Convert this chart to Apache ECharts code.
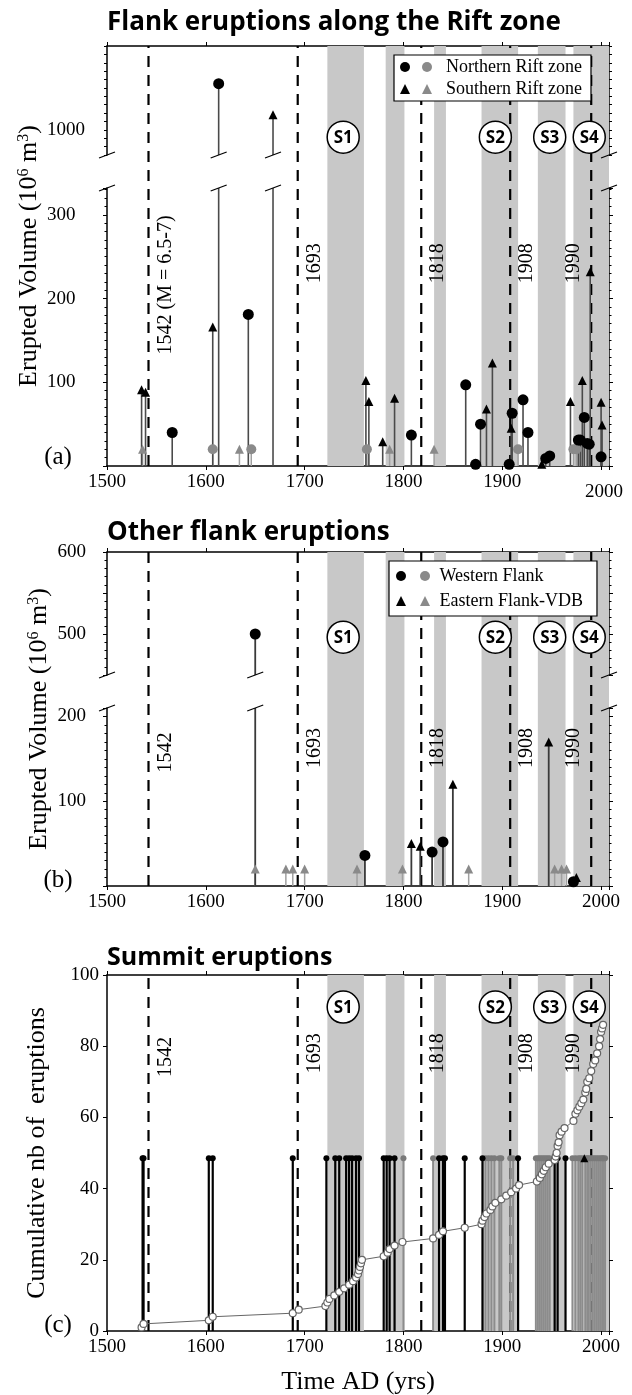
<!DOCTYPE html>
<html><head><meta charset="utf-8">
<script src="https://cdn.jsdelivr.net/npm/echarts@6/dist/echarts.min.js"></script>
<style>html,body{margin:0;padding:0;background:#fff}#c{width:632px;height:1395px}</style>
</head><body><div id="c"></div>
<script>
// ---------------- DATA ----------------
const xTicks = [1500, 1600, 1700, 1800, 1900, 2000];
const eventYears = [1542, 1693, 1818, 1908, 1990];
const eventLabelsA = ['1542 (M = 6.5-7)', '1693', '1818', '1908', '1990'];
const eventLabelsB = ['1542', '1693', '1818', '1908', '1990'];
const bandStarts = [1723, 1782, 1831, 1879, 1936, 1972];
const bandEnds   = [1760, 1801, 1843, 1916, 1964, 2008];
const sLabels = ['S1', 'S2', 'S3', 'S4'];
const sYears  = [1739, 1893, 1948, 1988];

// panel (a) Rift zone
const aTickLabels = [100, 200, 300, 1000];
const nrBlackYears = [1566, 1613, 1643, 1808, 1863, 1873, 1878, 1907, 1910, 1921, 1926, 1944, 1948, 1977, 1979, 1983, 1986, 1988, 2000];
const nrBlackVals  = [40, 1055, 181, 37, 97, 2, 50, 2, 63, 79, 40, 9, 12, 31, 31, 58, 27, 26, 11];
const nrGrayYears  = [1607, 1646, 1763, 1916, 1972, 1975];
const nrGrayVals   = [20, 20, 20, 20, 20, 20];
const srBlackYears = [1535, 1539, 1607, 1668, 1762, 1765, 1779, 1791, 1884, 1890, 1909, 1940, 1969, 1981, 1989, 2000, 2001];
const srBlackVals  = [91, 88, 166, 1018, 102, 77, 29, 81, 68, 123, 45, 2, 77, 102, 232, 76, 49];
const srGrayYears  = [1536, 1634, 1786, 1831];
const srGrayVals   = [20, 20, 20, 20];

// panel (b) other flanks
const bTickLabels = [100, 200, 500, 600];
const wfBlackYears = [1650, 1761, 1829, 1840, 1972];
const wfBlackVals  = [500, 36, 40, 52, 5];
const wfGrayYears  = [];
const wfGrayVals   = [];
const efBlackYears = [1808, 1817, 1850, 1947, 1975];
const efBlackVals  = [50, 47, 120, 170, 10];
const efGrayYears  = [1650, 1681, 1688, 1700, 1753, 1799, 1866, 1953, 1960, 1965];
const efGrayVals   = [20, 20, 20, 20, 20, 20, 20, 20, 20, 20];

// panel (c) summit
const cTickLabels = [0, 20, 40, 60, 80, 100];
const summitLevel = 48.5;
const summitBlackYears = [1536, 1537, 1603, 1607, 1688, 1722, 1731, 1735, 1742, 1745, 1748, 1752, 1755, 1780, 1783, 1786, 1791, 1836, 1840, 1842, 1862, 1880, 1916, 1953, 1956, 1964];
const summitGrayYears  = [1800, 1830, 1883, 1886, 1889, 1892, 1897, 1899, 1908, 1911, 1934, 1936, 1938, 1940, 1942, 1944, 1946, 1948, 1971, 1974, 1977, 1979, 1981, 1984, 1986, 1987, 1989, 1991, 1993, 1995, 1997, 1999, 2001, 2002, 2004];
const summitTriYears   = [1983];
const cumYears  = [1535, 1537, 1603, 1607, 1688, 1694, 1721, 1723, 1725, 1730, 1735, 1740, 1745, 1749, 1752, 1754, 1755, 1756, 1757, 1758, 1780, 1784, 1786, 1791, 1799, 1830, 1836, 1840, 1862, 1879, 1880, 1882, 1884, 1888, 1890, 1893, 1899, 1904, 1909, 1914, 1917, 1935, 1938, 1940, 1942, 1944, 1947, 1953, 1954, 1955, 1956, 1957, 1958, 1960, 1963, 1972, 1974, 1976, 1978, 1980, 1982, 1984, 1985, 1986, 1988, 1990, 1992, 1994, 1996, 1998, 1999, 2000, 2001, 2002];
const cumCounts = [1, 2, 3, 4, 5, 6, 7, 8, 9, 10, 11, 12, 13, 14, 15, 16, 17, 18, 19, 20, 21, 22, 23, 24, 25, 26, 27, 28, 29, 30, 31, 32, 33, 34, 35, 36, 37, 38, 39, 40, 41, 42, 43, 44, 45, 46, 47, 48, 49, 50, 52, 53, 55, 56, 57, 59, 61, 62, 63, 64, 65, 67, 68, 70, 71, 73, 75, 76, 78, 80, 82, 84, 85, 86];

// ---------------- LAYOUT / STYLE ----------------
const X_MIN = 1500, X_MAX = 2008;
const LEFT = 107, RIGHT = 23;
const SERIF = 'Liberation Serif';
const SANS_B = 'Open Sans';
const BAND = '#c8c8c8';
const GRAY = '#8a8a8a';
const A_LO_MAX = 332, A_UP_MIN = 970, A_UP_MAX = 1100;
const B_LO_MAX = 210, B_UP_MIN = 450, B_UP_MAX = 600;
const labelPosA = [0.431, 0.483, 0.483, 0.483, 0.483];
const labelPosB = [0.40, 0.413, 0.413, 0.413, 0.413];
const labelPosC = [77, 78, 78, 78, 78];
const labelSide = [1, 1, 1, 1, -1];
const NAME_SIZE = 26;

function fmtList(list) { return v => list.indexOf(v) >= 0 ? String(v) : ''; }
const xFmt = fmtList(xTicks);

function xA(gridIndex, kind, extra) {
  const base = { type: 'value', gridIndex, min: X_MIN, max: X_MAX, interval: 100, splitLine: { show: false } };
  if (kind === 'hidden') return Object.assign(base, { show: false });
  return Object.assign(base, {
    position: kind,
    axisLine: { show: true, onZero: false, lineStyle: { color: '#000', width: 1.5 } },
    axisTick: { show: true, inside: false, length: 4, lineStyle: { color: '#000', width: 1 } },
    axisLabel: { show: kind === 'bottom', formatter: xFmt, color: '#000', fontFamily: SERIF, fontSize: 19, margin: 7 }
  }, extra || {});
}
function yA(gridIndex, pos, min, max, interval, opts) {
  opts = opts || {};
  return {
    type: 'value', gridIndex, position: pos, min, max, interval,
    splitLine: { show: false },
    axisLine: { show: true, onZero: false, lineStyle: { color: '#000', width: 1.5 } },
    axisTick: { show: true, inside: false, length: opts.tickLen || 4, lineStyle: { color: '#000', width: 1 } },
    minorTick: { show: !!opts.minor, splitNumber: opts.minor || 5, length: 2.5, lineStyle: { color: '#000', width: 1 } },
    axisLabel: pos === 'left' ? {
      show: true, formatter: fmtList(opts.labels), color: '#000', fontFamily: SERIF, fontSize: 19,
      margin: opts.margin, align: opts.align || 'right'
    } : { show: false }
  };
}
function yOverlay(gridIndex, name, gap) {
  return {
    type: 'value', gridIndex, min: 0, max: 1, position: 'left',
    axisLine: { show: false }, axisTick: { show: false }, axisLabel: { show: false }, splitLine: { show: false },
    name, nameLocation: 'middle', nameRotate: 90, nameGap: gap,
    nameTextStyle: { color: '#000', fontFamily: SERIF, fontSize: NAME_SIZE,
      rich: { sup: { fontSize: 16, fontFamily: SERIF, color: '#000', verticalAlign: 'top', lineHeight: 16 } } }
  };
}

// ---------- renderers ----------
function rBands(yLo, yHi) {
  return (params, api) => {
    const p0 = api.coord([api.value(0), yHi]);
    const p1 = api.coord([api.value(1), yLo]);
    return { type: 'rect', shape: { x: p0[0], y: p0[1], width: p1[0] - p0[0], height: p1[1] - p0[1] }, style: { fill: BAND } };
  };
}
function rDashed(yLo, yHi) {
  return (params, api) => {
    const p0 = api.coord([api.value(0), yLo]);
    const p1 = api.coord([api.value(0), yHi]);
    return { type: 'line', shape: { x1: p0[0], y1: p0[1], x2: p1[0], y2: p1[1] },
      style: { stroke: '#000', lineWidth: 2.2, lineDash: [11, 8] } };
  };
}
function rEvent(labels, pos) {
  return (params, api) => {
    const i = params.dataIndex;
    const p = api.coord([api.value(0), pos[i]]);
    return { type: 'text', x: p[0] + labelSide[i] * 17, y: p[1], rotation: Math.PI / 2,
      style: { text: labels[i], fill: '#000', fontSize: 20, fontFamily: SERIF, align: 'center', verticalAlign: 'middle' } };
  };
}
function rS(yVal) {
  return (params, api) => {
    const p = api.coord([api.value(0), yVal]);
    return { type: 'group', children: [
      { type: 'circle', shape: { cx: p[0], cy: p[1], r: 16 }, style: { fill: '#fff', stroke: '#000', lineWidth: 1.5 } },
      { type: 'text', x: p[0], y: p[1] + 1, style: { text: sLabels[params.dataIndex], fill: '#000', fontSize: 17, fontWeight: 'bold', fontFamily: SANS_B, align: 'center', verticalAlign: 'middle' } }
    ] };
  };
}
function rStem(color, width) {
  return (params, api) => {
    const a = api.coord([api.value(0), api.value(1)]);
    const b = api.coord([api.value(0), api.value(2)]);
    return { type: 'line', shape: { x1: a[0], y1: a[1], x2: b[0], y2: b[1] }, style: { stroke: color, lineWidth: width } };
  };
}
function rBreak(params, api) {
  const p = api.coord([api.value(0), api.value(1)]);
  return { type: 'line', shape: { x1: p[0] - 8, y1: p[1] + 3, x2: p[0] + 8, y2: p[1] - 3 }, style: { stroke: '#000', lineWidth: 1.2 } };
}

// ---------- helpers ----------
function pts(years, vals, loMax, upper) {
  const out = [];
  years.forEach((y, i) => { const v = vals[i]; if ((v > loMax) === upper) out.push([y, v]); });
  return out;
}
function stems(years, vals, loMax, upMin, upper) {
  const out = [];
  years.forEach((y, i) => {
    const v = vals[i];
    if (upper) { if (v > upMin) out.push([y, upMin, v]); }
    else out.push([y, 0, Math.min(v, loMax)]);
  });
  return out;
}
function custom(name, xi, yi, data, renderItem, z) {
  return { type: 'custom', name, xAxisIndex: xi, yAxisIndex: yi, data, renderItem, z, silent: true, clip: false };
}
function scat(name, xi, yi, data, symbol, size, color, z) {
  return { type: 'scatter', name, xAxisIndex: xi, yAxisIndex: yi, data, symbol, symbolSize: size,
    itemStyle: { color, opacity: 1 }, z, silent: true };
}
function overlaySeries(xi, yi, yLo, yHi, labels, pos, sY) {
  return [
    custom('bands', xi, yi, bandStarts.map((s, i) => [s, bandEnds[i]]), rBands(yLo, yHi), 1),
    custom('events', xi, yi, eventYears.map(y => [y, 0]), rDashed(yLo, yHi), 2),
    custom('eventLabels', xi, yi, eventYears.map(y => [y, 0]), rEvent(labels, pos), 8),
    custom('stages', xi, yi, sYears.map(y => [y, 0]), rS(sY), 9)
  ];
}

// ---------- series ----------
const series = [];
// panel a  (overlay x0/y0, upper x2/y1, lower x3/y3)
series.push(...overlaySeries(0, 0, 0, 1, eventLabelsA, labelPosA, 0.783));
[[2, 1, true], [3, 3, false]].forEach(([xi, yi, up]) => {
  series.push(custom('stemsGrayA', xi, yi, [...stems(nrGrayYears, nrGrayVals, A_LO_MAX, A_UP_MIN, up), ...stems(srGrayYears, srGrayVals, A_LO_MAX, A_UP_MIN, up)], rStem('#a0a0a0', 1.5), 3));
  series.push(custom('stemsBlackA', xi, yi, [...stems(nrBlackYears, nrBlackVals, A_LO_MAX, A_UP_MIN, up), ...stems(srBlackYears, srBlackVals, A_LO_MAX, A_UP_MIN, up)], rStem('#4a4a4a', 1.6), 3));
  series.push(scat('Northern Rift zone', xi, yi, pts(nrGrayYears, nrGrayVals, A_LO_MAX, up), 'circle', 10, GRAY, 4));
  series.push(scat('Southern Rift zone', xi, yi, pts(srGrayYears, srGrayVals, A_LO_MAX, up), 'triangle', 9, GRAY, 4));
  series.push(scat('NR black', xi, yi, pts(nrBlackYears, nrBlackVals, A_LO_MAX, up), 'circle', 11, '#000', 5));
  series.push(scat('SR black', xi, yi, pts(srBlackYears, srBlackVals, A_LO_MAX, up), 'triangle', 9, '#000', 5));
});
const aBreakYears = [X_MIN, ...nrBlackYears.filter((y, i) => nrBlackVals[i] > A_UP_MIN), ...srBlackYears.filter((y, i) => srBlackVals[i] > A_UP_MIN), X_MAX];
series.push(custom('breakA1', 3, 3, aBreakYears.map(y => [y, A_LO_MAX]), rBreak, 6));
series.push(custom('breakA2', 2, 1, aBreakYears.map(y => [y, A_UP_MIN]), rBreak, 6));

// panel b (overlay x4/y5, upper x6/y6, lower x7/y8)
series.push(...overlaySeries(4, 5, 0, 1, eventLabelsB, labelPosB, 0.745));
[[6, 6, true], [7, 8, false]].forEach(([xi, yi, up]) => {
  series.push(custom('stemsGrayB', xi, yi, [...stems(wfGrayYears, wfGrayVals, B_LO_MAX, B_UP_MIN, up), ...stems(efGrayYears, efGrayVals, B_LO_MAX, B_UP_MIN, up)], rStem('#a0a0a0', 1.5), 3));
  series.push(custom('stemsBlackB', xi, yi, [...stems(wfBlackYears, wfBlackVals, B_LO_MAX, B_UP_MIN, up), ...stems(efBlackYears, efBlackVals, B_LO_MAX, B_UP_MIN, up)], rStem('#3a3a3a', 1.8), 3));
  series.push(scat('Western Flank', xi, yi, pts(wfGrayYears, wfGrayVals, B_LO_MAX, up), 'circle', 10, GRAY, 4));
  series.push(scat('Eastern Flank-VDB', xi, yi, pts(efGrayYears, efGrayVals, B_LO_MAX, up), 'triangle', 9, GRAY, 4));
  series.push(scat('WF black', xi, yi, pts(wfBlackYears, wfBlackVals, B_LO_MAX, up), 'circle', 11, '#000', 5));
  series.push(scat('EF black', xi, yi, pts(efBlackYears, efBlackVals, B_LO_MAX, up), 'triangle', 9, '#000', 5));
});
const bBreakYears = [X_MIN, ...wfBlackYears.filter((y, i) => wfBlackVals[i] > B_UP_MIN), X_MAX];
series.push(custom('breakB1', 7, 8, bBreakYears.map(y => [y, B_LO_MAX]), rBreak, 6));
series.push(custom('breakB2', 6, 6, bBreakYears.map(y => [y, B_UP_MIN]), rBreak, 6));

// panel c (x8 / y10)
series.push(...overlaySeries(8, 10, 0, 100, eventLabelsB, labelPosC, 91));
series.push(custom('summitGrayStems', 8, 10, summitGrayYears.map(y => [y, 0, summitLevel]), rStem('#8c8c8c', 2), 3));
series.push(custom('summitBlackStems', 8, 10, summitBlackYears.map(y => [y, 0, summitLevel]), rStem('#000', 2.2), 3));
series.push(scat('summitGray', 8, 10, summitGrayYears.map(y => [y, summitLevel]), 'circle', 6, '#7a7a7a', 4));
series.push(scat('summitBlack', 8, 10, summitBlackYears.map(y => [y, summitLevel]), 'circle', 6, '#000', 5));
series.push(scat('summitTri', 8, 10, summitTriYears.map(y => [y, summitLevel]), 'triangle', 8, '#000', 5));
series.push({ type: 'line', name: 'cumulative', xAxisIndex: 8, yAxisIndex: 10, z: 7, silent: true,
  data: cumYears.map((y, i) => [y, cumCounts[i]]),
  symbol: 'circle', symbolSize: 7, showSymbol: true,
  itemStyle: { color: '#fff', borderColor: '#666', borderWidth: 1.2 },
  lineStyle: { color: '#666', width: 1 } });

// ---------- legends ----------
function legendText(data, left, top, pad, gap, lead) {
  return { data, left, top, orient: 'vertical', itemGap: gap, itemWidth: 10, itemHeight: 10, padding: pad,
    backgroundColor: '#fff', borderColor: '#000', borderWidth: 1.2, z: 20, selectedMode: false,
    formatter: name => lead + name,
    textStyle: { color: '#000', fontFamily: SERIF, fontSize: 18, lineHeight: 20 } };
}
function legendSym(data, left, top, pad, gap) {
  return { data, left, top, orient: 'vertical', itemGap: gap, itemWidth: 10, itemHeight: 10, padding: pad,
    z: 21, selectedMode: false, formatter: () => ' ',
    textStyle: { color: '#000', fontFamily: SERIF, fontSize: 18, lineHeight: 20 } };
}

const titleStyle = { fontFamily: SANS_B, fontWeight: 'bold', fontSize: 26, color: '#000' };
const option = {
  animation: false,
  backgroundColor: '#fff',
  title: [
    { text: 'Flank eruptions along the Rift zone', left: 107, top: 10, padding: 0, textStyle: titleStyle },
    { text: 'Other flank eruptions', left: 107, top: 520, padding: 0, textStyle: titleStyle },
    { text: 'Summit eruptions', left: 107, top: 945, padding: 0, textStyle: Object.assign({}, titleStyle, { fontSize: 25 }) }
  ],
  legend: [
    legendText(['Northern Rift zone', 'Southern Rift zone'], 394, 55, [2, 9, 2, 28], 2, '  '),
    legendSym(['NR black', 'SR black'], 400, 55, [2, 0, 2, 0], 2),
    legendText(['Western Flank', 'Eastern Flank-VDB'], 389, 561, [5, 14, 5, 31], 5, ' '),
    legendSym(['WF black', 'EF black'], 396, 561, [5, 0, 5, 0], 5)
  ],
  graphic: [
    { type: 'text', x: 58, y: 457, style: { text: '(a)', fontSize: 25, fontFamily: SERIF, fill: '#000', align: 'center', verticalAlign: 'middle' } },
    { type: 'text', x: 58, y: 880, style: { text: '(b)', fontSize: 25, fontFamily: SERIF, fill: '#000', align: 'center', verticalAlign: 'middle' } },
    { type: 'text', x: 58, y: 1325, style: { text: '(c)', fontSize: 25, fontFamily: SERIF, fill: '#000', align: 'center', verticalAlign: 'middle' } }
  ],
  grid: [
    { left: LEFT, right: RIGHT, top: 46, height: 420, outerBoundsMode: 'none' },
    { left: LEFT, right: RIGHT, top: 46, height: 109, outerBoundsMode: 'none' },
    { left: LEFT, right: RIGHT, top: 188, height: 278, outerBoundsMode: 'none' },
    { left: LEFT, right: RIGHT, top: 552, height: 334, outerBoundsMode: 'none' },
    { left: LEFT, right: RIGHT, top: 552, height: 123, outerBoundsMode: 'none' },
    { left: LEFT, right: RIGHT, top: 708, height: 178, outerBoundsMode: 'none' },
    { left: LEFT, right: RIGHT, top: 975, height: 356, outerBoundsMode: 'none' }
  ],
  xAxis: [
    xA(0, 'bottom', { axisLabel: { show: true, color: '#000', fontFamily: SERIF, fontSize: 19, margin: 7,
      formatter: v => v === 2000 ? '{low|2000}' : xFmt(v), rich: { low: { fontFamily: SERIF, fontSize: 19, color: '#000', padding: [10, 0, 0, 6] } } } }),
    xA(0, 'top'),
    xA(1, 'hidden'),
    xA(2, 'hidden'),
    xA(3, 'bottom'),
    xA(3, 'top'),
    xA(4, 'hidden'),
    xA(5, 'hidden'),
    xA(6, 'bottom', { name: 'Time AD (yrs)', nameLocation: 'middle', nameGap: 38,
      nameTextStyle: { color: '#000', fontFamily: SERIF, fontSize: NAME_SIZE } }),
    xA(6, 'top')
  ],
  yAxis: [
    yOverlay(0, 'Erupted Volume (10{sup|6} m{sup|3})', 65),
    yA(1, 'left', A_UP_MIN, A_UP_MAX, 10, { labels: aTickLabels, margin: 60, align: 'left', tickLen: 3 }),
    yA(1, 'right', A_UP_MIN, A_UP_MAX, 10, { tickLen: 3 }),
    yA(2, 'left', 0, A_LO_MAX, 100, { labels: aTickLabels, margin: 60, align: 'left', minor: 10 }),
    yA(2, 'right', 0, A_LO_MAX, 100, { minor: 10 }),
    yOverlay(3, 'Erupted Volume (10{sup|6} m{sup|3})', 55),
    yA(4, 'left', B_UP_MIN, B_UP_MAX, 50, { labels: bTickLabels, margin: 21, minor: 5 }),
    yA(4, 'right', B_UP_MIN, B_UP_MAX, 50, { minor: 5 }),
    yA(5, 'left', 0, B_LO_MAX, 100, { labels: bTickLabels, margin: 21, minor: 10 }),
    yA(5, 'right', 0, B_LO_MAX, 100, { minor: 10 }),
    Object.assign(yA(6, 'left', 0, 100, 20, { labels: cTickLabels, margin: 8 }), {
      name: 'Cumulative nb of  eruptions', nameLocation: 'middle', nameRotate: 90, nameGap: 57,
      nameTextStyle: { color: '#000', fontFamily: SERIF, fontSize: NAME_SIZE } }),
    yA(6, 'right', 0, 100, 20, {})
  ],
  series
};
const chart = echarts.init(document.getElementById('c'), null, { renderer: 'canvas' });
chart.setOption(option);
</script>
</body></html>
